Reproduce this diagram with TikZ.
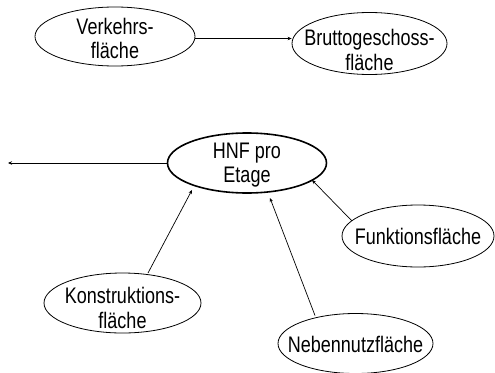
\documentclass[tikz,border=0pt]{standalone}
\usepackage{fontspec}
\setmainfont{Liberation Sans}[FakeStretch=0.8]
\usetikzlibrary{shapes.geometric,arrows.meta,calc}
\begin{document}
\begin{tikzpicture}[x=1pt,y=-1pt,
  area/.style={ellipse,draw,line width=0.8pt,inner sep=0pt},
  txt/.style={inner sep=0pt,align=center,font=\fontsize{22.5}{24.5}\selectfont},
  arr/.style={line width=0.7pt,-{Stealth[length=4pt,width=3.5pt]}}]
\useasboundingbox (0,0) rectangle (495,372);
% ellipses
\node[area,minimum width=160pt,minimum height=59pt] (v) at (115,36.5) {};
\node[area,minimum width=155pt,minimum height=62pt] (b) at (369.5,43.5) {};
\node[area,line width=1.6pt,minimum width=159pt,minimum height=60pt] (h) at (247,163) {};
\node[area,minimum width=152pt,minimum height=62pt] (f) at (418,236) {};
\node[area,minimum width=157pt,minimum height=60pt] (k) at (122.5,303) {};
\node[area,minimum width=155pt,minimum height=60pt] (n) at (355.5,343.5) {};
% labels inside the ellipses
\node[txt] (vt) at ($(v)+(0,2)$) {Verkehrs-\\fläche};
\node[txt] (bt) at ($(b)+(0,6.5)$) {Bruttogeschoss-\\fläche};
\node[txt] (ht) at ($(h)+(0,2)$) {HNF pro\\Etage};
\node[txt] (ft) at ($(f)+(0,0)$) {Funktionsfläche};
\node[txt] (kt) at ($(k)+(0,5)$) {Konstruktions-\\fläche};
\node[txt] (nt) at ($(n)+(0,1)$) {Nebennutzfläche};
\coordinate (out) at (8,163);
% connectors
\draw[arr] ([yshift=-2pt]v.east) -- ([yshift=-2pt]v.east -| b.west);
\draw[arr] (h.west) -- (out);
\draw[arr] ($(f)+(-66,-15)$) -- ($(h)+(65,17)$);
\draw[arr] ($(k)+(25.5,-30)$) -- ($(h)+(-55,27)$);
\draw[arr] ($(n)+(-40.5,-28)$) -- ($(h)+(23,35)$);
\end{tikzpicture}
\end{document}
